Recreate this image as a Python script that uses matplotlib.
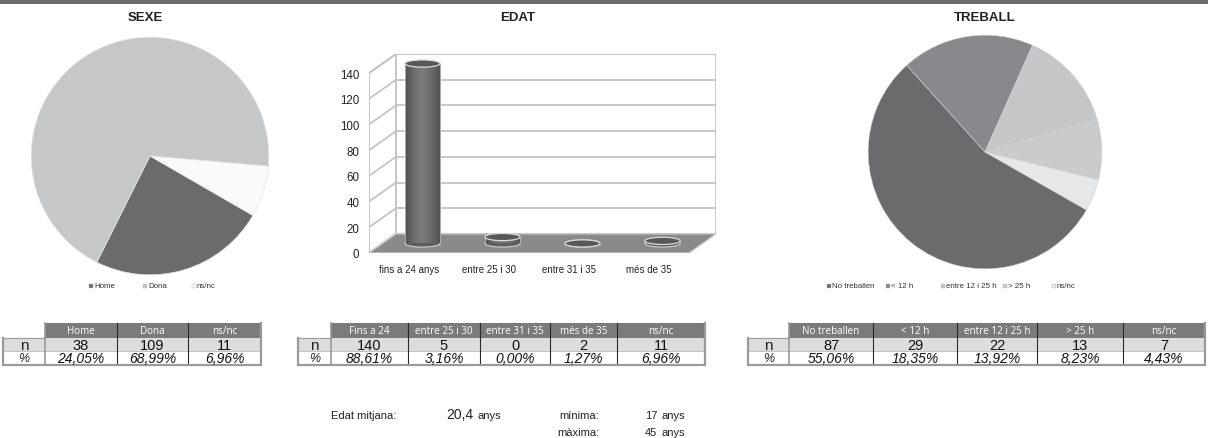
import matplotlib
matplotlib.use('Agg')
import numpy as np
import matplotlib.pyplot as plt
from matplotlib.patches import Rectangle, Polygon, Ellipse

plt.rcParams['font.family'] = ['Liberation Sans', 'DejaVu Sans']

# ---------------- data ----------------
sexe_labels = ['Home', 'Dona', 'ns/nc']
sexe_n = [38, 109, 11]
sexe_colors = ['#6b6b6d', '#c6c7c9', '#fafafa']

edat_cats = ['fins a 24 anys', 'entre 25 i 30', 'entre 31 i 35', 'més de 35']
edat_vals = [140, 5, 0, 2]
edat_headers = ['Fins a 24', 'entre 25 i 30', 'entre 31 i 35', 'més de 35', 'ns/nc']
edat_n = [140, 5, 0, 2, 11]
edat_yticks = [0, 20, 40, 60, 80, 100, 120, 140]

treball_labels = ['No treballen', '< 12 h', 'entre 12 i 25 h', '> 25 h', 'ns/nc']
treball_n = [87, 29, 22, 13, 7]
treball_colors = ['#6b6b6d', '#88898c', '#c5c6c8', '#cacbcd', '#e6e7e8']

total = 158
edat_mitjana = '20,4'
edat_min = '17'
edat_max = '45'

W, H = 1208, 439
fig = plt.figure(figsize=(W / 100, H / 100), dpi=100)


def fax(x0, y0, x1, y1):
    return [x0 / W, 1 - y1 / H, (x1 - x0) / W, (y1 - y0) / H]


# overlay axes in pixel coordinates
ov = fig.add_axes([0, 0, 1, 1])
ov.set_xlim(0, W)
ov.set_ylim(H, 0)
ov.axis('off')

ov.add_patch(Rectangle((0, 0), W, 4.5, fc='#6b6b6b', ec='none'))

# titles
ov.text(145, 18, 'SEXE', ha='center', va='center', fontsize=9.5, fontweight='bold', color='#222222')
ov.text(518, 18, 'EDAT', ha='center', va='center', fontsize=9.5, fontweight='bold', color='#222222')
ov.text(985, 18, 'TREBALL', ha='center', va='center', fontsize=9.5, fontweight='bold', color='#222222')

# ---------------- pies ----------------
ax1 = fig.add_axes(fax(30, 37, 270, 277))
ax1.pie(sexe_n, colors=sexe_colors, startangle=-30, counterclock=False, radius=1,
        wedgeprops=dict(linewidth=0.5, edgecolor='#e4e4e4'))
ax1.set_xlim(-1.01, 1.01)
ax1.set_ylim(-1.01, 1.01)

ax3 = fig.add_axes(fax(867, 35, 1103, 271))
ax3.pie(treball_n, colors=treball_colors, startangle=-29.7, counterclock=False, radius=1,
        wedgeprops=dict(linewidth=0.4, edgecolor='#d0d0d0'))
ax3.set_xlim(-1.01, 1.01)
ax3.set_ylim(-1.01, 1.01)


def legend(xs, y, colors, labels):
    for x, c, l in zip(xs, colors, labels):
        ov.add_patch(Rectangle((x, y - 2.2), 4.4, 4.4, fc=c, ec='#b0b0b0', lw=0.3))
        ov.text(x + 5, y, l, ha='left', va='center', fontsize=5.7, color='#333333')


legend([89, 143, 192], 287, sexe_colors, sexe_labels)
legend([827, 886, 941, 1003, 1052], 287, treball_colors, treball_labels)

# ---------------- 3D-like cylinder chart ----------------
ax2 = fig.add_axes(fax(369, 55, 716, 254))
DX = 27 / 80.0
DY = 19 / (179 / 140.0)
for s in ax2.spines.values():
    s.set_visible(False)
ax2.patch.set_alpha(0)

gc = '#c4c4c4'
x0, x1 = -0.5, 3.5
ymax = max(edat_yticks)
# back wall
ax2.add_patch(Rectangle((x0 + DX, DY), x1 - x0, ymax, fc='white', ec=gc, lw=1.3, zorder=1))
# left wall
ax2.add_patch(Polygon([(x0, 0), (x0 + DX, DY), (x0 + DX, ymax + DY), (x0, ymax)],
                      closed=True, fc='white', ec=gc, lw=1.3, zorder=1))
for v in edat_yticks:
    ax2.plot([x0 + DX, x1 + DX], [v + DY, v + DY], color=gc, lw=1.3, zorder=1.5)
    ax2.plot([x0, x0 + DX], [v, v + DY], color=gc, lw=1.3, zorder=1.5)
# floor
ax2.add_patch(Polygon([(x0, 0), (x1, 0), (x1 + DX, DY), (x0 + DX, DY)],
                      closed=True, fc='#8a8a8a', ec='#c8c8c8', lw=1.0, zorder=2))

cmap = matplotlib.colors.LinearSegmentedColormap.from_list(
    'cyl', ['#4e4e4e', '#6f6f6f', '#7c7c7c', '#6a6a6a', '#505050'])
grad = np.linspace(0, 1, 64).reshape(1, -1)
w, eh = 0.44, 5.6
for i, v in enumerate(edat_vals):
    cx, b = i + DX / 2, DY / 2
    ax2.add_patch(Ellipse((cx, b), w, eh, fc='#5e5e5e', ec='#d0d0d0', lw=0.8, zorder=3))
    if v > 0:
        rect = Rectangle((cx - w / 2, b), w, v, fc='none', ec='none', zorder=3.1)
        ax2.add_patch(rect)
        im = ax2.imshow(grad, extent=[cx - w / 2, cx + w / 2, b, b + v], aspect='auto',
                        cmap=cmap, zorder=3.1, interpolation='bilinear')
        im.set_clip_path(rect)
        ax2.plot([cx - w / 2, cx - w / 2], [b, b + v], color='#bdbdbd', lw=0.6, zorder=3.2)
        ax2.plot([cx + w / 2, cx + w / 2], [b, b + v], color='#bdbdbd', lw=0.6, zorder=3.2)
    ax2.add_patch(Ellipse((cx, b + v), w, eh, fc='#585858', ec='#dadada', lw=0.9, zorder=4))

ax2.set_xlim(-0.5, 3.5 + DX)
ax2.set_ylim(0, 140 + DY)
ax2.set_yticks(edat_yticks)
ax2.set_yticklabels([str(t) for t in edat_yticks], fontsize=8.3, color='#222222')
ax2.set_xticks(range(len(edat_cats)))
ax2.set_xticklabels(edat_cats, fontsize=7, color='#222222')
ax2.tick_params(axis='both', length=0)
ax2.tick_params(axis='y', pad=7)
ax2.tick_params(axis='x', pad=8)

# ---------------- tables ----------------
ROWS = [324, 339, 352, 366]


def fmt_pct(n):
    return ('%.2f' % (n * 100.0 / total)).replace('.', ',') + '%'


def table(xl, bounds, headers, nvals):
    top, r1, r2, bot = ROWS
    # fills
    ov.add_patch(Rectangle((bounds[0], top), bounds[-1] - bounds[0], r1 - top, fc='#7b7b7d', ec='none'))
    ov.add_patch(Rectangle((xl, r1), bounds[-1] - xl, r2 - r1, fc='#dcdddf', ec='none'))
    ov.add_patch(Rectangle((xl, r2), bounds[-1] - xl, bot - r2, fc='white', ec='none'))
    # inner lines
    ov.plot([xl, bounds[-1]], [r2, r2], color='#b5b5b5', lw=0.6)
    for xb in bounds[1:-1]:
        ov.plot([xb, xb], [top, bot], color='#2a2a2a', lw=0.8)
    ov.plot([bounds[0], bounds[0]], [top, bot], color='#9a9a9a', lw=1.2)
    # outer border
    ov.plot([xl, xl, bounds[-1], bounds[-1]], [r1, bot, bot, top], color='#9a9a9a', lw=1.6,
            solid_joinstyle='miter')
    ov.plot([xl, bounds[0]], [r1, r1], color='#9a9a9a', lw=0.8)
    # text
    ov.text((xl + bounds[0]) / 2, (r1 + r2) / 2 + 0.5, 'n', ha='center', va='center', fontsize=11, color='#222222')
    ov.text((xl + bounds[0]) / 2, (r2 + bot) / 2 + 0.5, '%', ha='center', va='center', fontsize=9,
            style='italic', color='#222222')
    for k, (h, n) in enumerate(zip(headers, nvals)):
        xc = (bounds[k] + bounds[k + 1]) / 2
        ov.text(xc, (top + r1) / 2, h, ha='center', va='center', fontsize=7.1, color='white',
                family=['Open Sans', 'DejaVu Sans'])
        ov.text(xc, (r1 + r2) / 2 + 0.5, str(n), ha='center', va='center', fontsize=10.5, color='#111111')
        ov.text(xc, (r2 + bot) / 2 + 0.5, fmt_pct(n), ha='center', va='center', fontsize=10,
                style='italic', color='#111111')


table(3, [45, 117, 188, 261], sexe_labels, sexe_n)
table(298, [331, 408, 480, 550, 617, 705], edat_headers, edat_n)
table(748, [789, 873, 957, 1037, 1123, 1205], treball_labels, treball_n)

# EDAT summary texts
fs = 8
ov.text(331, 416, 'Edat mitjana:', ha='left', va='center', fontsize=fs, color='#222222')
ov.text(473, 415, edat_mitjana, ha='right', va='center', fontsize=10, color='#222222')
ov.text(477, 416, 'anys', ha='left', va='center', fontsize=fs, color='#222222')
ov.text(599, 416, 'mínima:', ha='right', va='center', fontsize=fs, color='#222222')
ov.text(657, 416, edat_min, ha='right', va='center', fontsize=fs, color='#222222')
ov.text(661, 416, 'anys', ha='left', va='center', fontsize=fs, color='#222222')
ov.text(599, 433, 'màxima:', ha='right', va='center', fontsize=fs, color='#222222')
ov.text(657, 433, edat_max, ha='right', va='center', fontsize=fs, color='#222222')
ov.text(661, 433, 'anys', ha='left', va='center', fontsize=fs, color='#222222')

fig.savefig('out.png', dpi=100)
